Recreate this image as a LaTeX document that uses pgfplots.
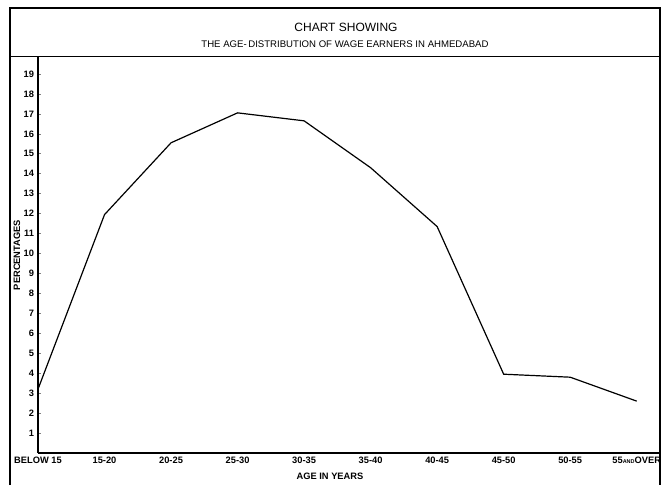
\documentclass[border=0pt]{standalone}
\usepackage{fontspec}
\setmainfont{Liberation Sans}
\usepackage{pgfplots}
\pgfplotsset{compat=1.18}
\begin{document}
\begin{tikzpicture}[x=1pt,y=1pt]
\begin{axis}[
  at={(0,0)}, anchor=south west,
  scale only axis, width=622pt, height=396pt,
  xmin=0, xmax=9.35, ymin=0, ymax=19.85,
  axis x line*=bottom, axis y line*=left,
  axis line style={line width=1.3pt, -},
  xtick={0,...,9},
  xticklabels={BELOW 15,15-20,20-25,25-30,30-35,35-40,40-45,45-50,50-55,{55{\fontsize{5.5}{5.5}\selectfont AND}OVER}},
  x tick style={draw=none},
  ytick={1,...,19},
  y tick style={line width=0.6pt},
  major tick length=3pt,
  tick align=inside,
  /pgf/number format/assume math mode=true,
  ticklabel style={font=\fontsize{9.3}{10}\selectfont\bfseries},
  xticklabel style={yshift=-0.5pt},
  yticklabel style={xshift=-0.5pt},
  clip=false,
]
\addplot[black, line width=1.2pt] coordinates {
  (0,3.2) (1,11.95) (2,15.55) (3,17.05) (4,16.65) (5,14.3) (6,11.35) (7,3.95) (8,3.8) (9,2.6)
};
\end{axis}
\node[font=\fontsize{9.3}{10}\selectfont\bfseries] at (292,-23) {AGE IN YEARS};
\node[font=\fontsize{9.3}{10}\selectfont\bfseries, rotate=90] at (-21,198) {PERCENTAGES};
\draw[line width=1.3pt] (-28,-32) -- (-28,445) -- (622,445) -- (622,-32);
\draw[line width=1pt] (-28,396) -- (622,396);
\node[font=\fontsize{12}{13}\selectfont] at (308,426) {CHART SHOWING};
\node[font=\fontsize{9.6}{10}\selectfont] at (307,409) {THE AGE-\,DISTRIBUTION OF WAGE EARNERS IN AHMEDABAD};
\pgfresetboundingbox
\useasboundingbox (-38,-32) rectangle (625,453);
\end{tikzpicture}
\end{document}
